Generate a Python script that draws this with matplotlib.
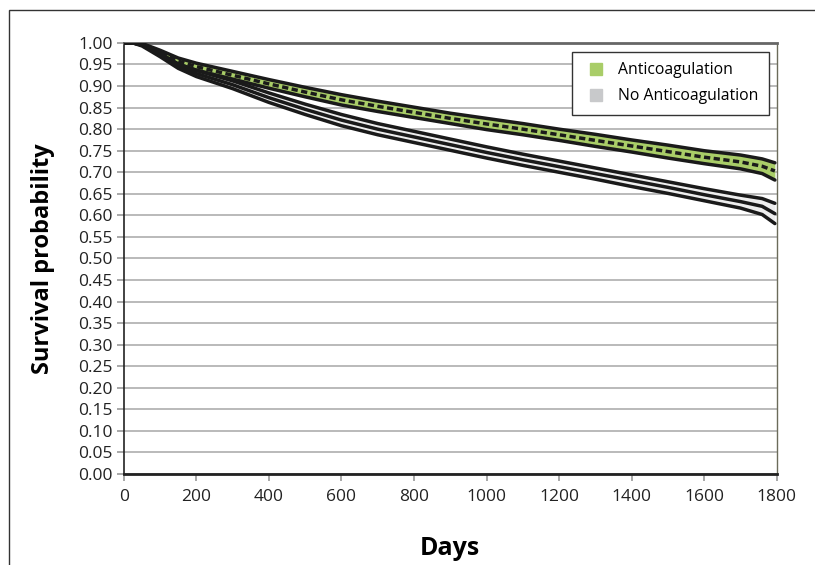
import matplotlib.pyplot as plt
import matplotlib.patches as mpatches
from matplotlib.lines import Line2D

# survival estimates (days -> probability)
days = [0, 25, 50, 100, 150, 200, 300, 400, 500, 600, 700, 800, 900,
        1000, 1100, 1200, 1300, 1400, 1500, 1600, 1700, 1760, 1795]

ac_mid = [1.0, 1.0, 0.997, 0.978, 0.958, 0.945, 0.925, 0.905, 0.886, 0.868,
          0.853, 0.839, 0.825, 0.812, 0.800, 0.787, 0.774, 0.761, 0.748,
          0.735, 0.724, 0.714, 0.703]
ac_hi = [1.0, 1.0, 0.999, 0.983, 0.965, 0.953, 0.934, 0.915, 0.897, 0.880,
         0.865, 0.851, 0.837, 0.825, 0.813, 0.800, 0.788, 0.775, 0.763,
         0.750, 0.740, 0.731, 0.722]
ac_lo = [1.0, 1.0, 0.995, 0.973, 0.951, 0.937, 0.916, 0.895, 0.875, 0.856,
         0.841, 0.827, 0.813, 0.799, 0.787, 0.774, 0.760, 0.747, 0.733,
         0.720, 0.708, 0.697, 0.682]

noac_mid = [1.0, 1.0, 0.995, 0.972, 0.946, 0.929, 0.903, 0.873, 0.846, 0.821,
            0.800, 0.782, 0.764, 0.746, 0.729, 0.713, 0.697, 0.681, 0.665,
            0.648, 0.632, 0.621, 0.604]
noac_hi = [1.0, 1.0, 0.997, 0.976, 0.951, 0.936, 0.912, 0.884, 0.858, 0.834,
           0.813, 0.795, 0.777, 0.759, 0.742, 0.726, 0.710, 0.694, 0.678,
           0.662, 0.647, 0.639, 0.628]
noac_lo = [1.0, 1.0, 0.993, 0.968, 0.941, 0.922, 0.894, 0.862, 0.834, 0.808,
           0.787, 0.769, 0.751, 0.733, 0.716, 0.700, 0.684, 0.667, 0.651,
           0.634, 0.617, 0.602, 0.581]

x_ticks = [0, 200, 400, 600, 800, 1000, 1200, 1400, 1600, 1800]
y_ticks = [i * 0.05 for i in range(21)]

green = '#a9cd68'
grey_fill = '#eeeeee'
legend_grey = '#c8c9cb'

plt.rcParams['font.family'] = ['Open Sans', 'DejaVu Sans']

fig = plt.figure(figsize=(8.15, 5.65), dpi=100)
ax = fig.add_axes([0.152, 0.161, 0.801, 0.763])

ax.fill_between(days, noac_lo, noac_hi, color=grey_fill, lw=0, zorder=2)
ax.fill_between(days, ac_lo, ac_hi, color=green, lw=0, zorder=2)

for ys in (noac_hi, noac_mid, noac_lo, ac_hi, ac_lo):
    ax.plot(days, ys, color='#1a1a1a', lw=2.5, solid_capstyle='round', zorder=3)
ax.plot(days, ac_mid, color='#1a1a1a', lw=2.5, dashes=(1.8, 1.0), zorder=4)

ax.set_xlim(0, 1800)
ax.set_ylim(0, 1.0)
ax.set_xticks(x_ticks)
ax.set_yticks(y_ticks)
ax.set_yticklabels(['%.2f' % v for v in y_ticks])
ax.grid(axis='y', color='#b4b4b4', lw=1.3)
ax.set_axisbelow(True)
ax.tick_params(axis='both', labelsize=12.5, colors='#222222', length=5, width=1.2)
ax.tick_params(axis='x', color='#999999', pad=6)
ax.tick_params(axis='y', color='#999999', pad=3)

ax.spines['left'].set_linewidth(1.2)
ax.spines['left'].set_color('#222222')
ax.spines['bottom'].set_linewidth(2.0)
ax.spines['bottom'].set_color('#222222')
ax.spines['top'].set_linewidth(2.0)
ax.spines['top'].set_color('#666666')
ax.spines['right'].set_linewidth(1.0)
ax.spines['right'].set_color('#6b6b5a')

ax.set_xlabel('Days', fontsize=18, fontweight='bold', labelpad=22)
ax.set_ylabel('Survival probability', fontsize=17, fontweight='bold', labelpad=17)

handles = [Line2D([], [], ls='none', marker='s', markersize=8, color=green),
           Line2D([], [], ls='none', marker='s', markersize=8, color=legend_grey)]
leg = ax.legend(handles, ['Anticoagulation', 'No Anticoagulation'],
                loc='upper right', bbox_to_anchor=(0.988, 0.979), fontsize=11.3,
                fancybox=False, framealpha=1, edgecolor='#333333',
                handlelength=1.8, handletextpad=0.5, borderpad=0.65,
                labelspacing=0.65, borderaxespad=0)
leg.get_frame().set_linewidth(1.0)

# outer frame of the figure panel (top and left edges)
fig.add_artist(mpatches.Rectangle((9 / 815, -0.1), 1.2, 1 - 10 / 565 + 0.1,
                                  transform=fig.transFigure, fill=False,
                                  edgecolor='#333333', lw=1.0))

fig.savefig('out.png', dpi=100)
